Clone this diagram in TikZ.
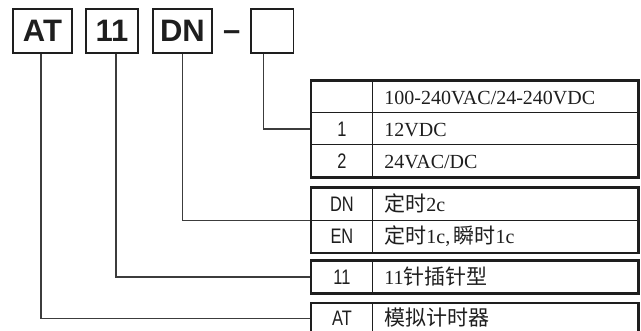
\documentclass[tikz,border=0pt]{standalone}
\usepackage{fontspec}
\setmainfont{Liberation Serif}
\newfontfamily\sansf{Liberation Sans}
\newfontfamily\sansn[FakeStretch=0.78]{Liberation Sans}
\newfontfamily\cjkf{Noto Sans CJK SC}
\definecolor{ink}{HTML}{1E1E1E}
\definecolor{wirec}{HTML}{3C3C3C}
\newcommand{\cjktxt}[1]{{\cjkf\fontsize{21}{22}\selectfont #1}}
\begin{document}
\begin{tikzpicture}[x=1pt,y=-1pt,
  codebox/.style={draw=ink, line width=1.7pt, inner sep=0pt, minimum height=44.3pt,
    font=\sansf\bfseries\fontsize{31}{31}\selectfont, text=ink},
  lcell/.style={draw=ink, line width=0.9pt, inner sep=0pt, minimum width=61pt,
    anchor=north west, font=\sansn\fontsize{21}{22}\selectfont, text=ink,
    text height=17pt, text depth=2pt},
  rcell/.style={draw=ink, line width=0.9pt, inner xsep=12pt, inner ysep=0pt,
    text width=241.5pt, align=left, anchor=north west,
    font=\fontsize{20}{22}\selectfont, text=ink, text height=17pt, text depth=2pt},
  tframe/.style={draw=ink, line width=2.3pt},
  wire/.style={draw=wirec, line width=1.2pt}]
\useasboundingbox (0,0) rectangle (641,331);
\clip (0,0) rectangle (641,331);

% code boxes
\node[codebox, minimum width=58.4pt] (bat) at (42.5,31.2) {AT};
\node[codebox, minimum width=52pt] (b11) at (112,31.2) {11};
\node[codebox, minimum width=58.4pt] (bdn) at (182.5,31.2) {DN};
\node[codebox, minimum width=42.3pt] (bx) at (272.2,31.2) {};
\node[font=\sansf\bfseries\fontsize{31}{31}\selectfont, text=ink, anchor=base, inner sep=0pt] (dash) at (231.7,40.8) {–};

% table 1
\node[lcell, minimum height=32pt] (r0l) at (311,80.5) {};
\node[rcell, minimum height=32pt] (r0r) at (372,80.5) {100-240VAC/24-240VDC};
\node[lcell, minimum height=32pt] (r1l) at (311,112.5) {1};
\node[rcell, minimum height=32pt] (r1r) at (372,112.5) {12VDC};
\node[lcell, minimum height=32pt] (r2l) at (311,144.5) {2};
\node[rcell, minimum height=32pt] (r2r) at (372,144.5) {24VAC/DC};

% table 2
\node[lcell, minimum height=32.25pt] (rdnl) at (311,187.5) {DN};
\node[rcell, minimum height=32.25pt] (rdnr) at (372,187.5) {\cjktxt{定时}2c};
\node[lcell, minimum height=32.25pt] (renl) at (311,219.75) {EN};
\node[rcell, minimum height=32.25pt] (renr) at (372,219.75) {\cjktxt{定时}1c,\,\cjktxt{瞬时}1c};

% table 3
\node[lcell, minimum height=32.25pt] (r11l) at (311,260.5) {11};
\node[rcell, minimum height=32.25pt] (r11r) at (372,260.5) {11\cjktxt{针插针型}};

% table 4
\node[lcell, minimum height=29.5pt] (ratl) at (311,303) {AT};
\node[rcell, minimum height=29.5pt] (ratr) at (372,303) {\cjktxt{模拟计时器}};

% wires
\draw[wire] ([xshift=-1.5pt]bat.south) |- (ratl.west);
\draw[wire] ([xshift=4pt]b11.south) |- (r11l.west);
\draw[wire] ([xshift=0.2pt]bdn.south) |- (rdnl.south west);
\draw[wire] ([xshift=-8.9pt]bx.south) |- (r1l.west);

% outer frames
\draw[tframe] (r0l.north west) rectangle (r2r.south east);
\draw[tframe] (rdnl.north west) rectangle (renr.south east);
\draw[tframe] (r11l.north west) rectangle (r11r.south east);
\draw[tframe] (ratl.north west) rectangle (ratr.south east);
\end{tikzpicture}
\end{document}
